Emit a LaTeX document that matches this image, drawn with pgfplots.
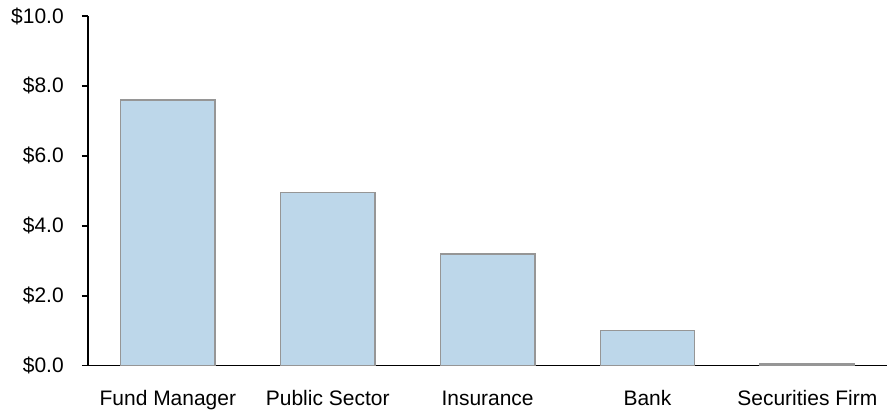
\documentclass[border=0pt]{standalone}
\usepackage{pgfplots}
\pgfplotsset{compat=1.18}
\usepackage{fontspec}
\setmainfont{Liberation Sans}
\definecolor{barfill}{HTML}{BDD7EA}
\definecolor{barline}{HTML}{969696}
\begin{document}
\fontsize{21bp}{25bp}\selectfont
\begin{tikzpicture}
\begin{axis}[
  name=ax,
  scale only axis, width=800bp, height=350bp,
  xmin=-0.5, xmax=4.5, ymin=0, ymax=10,
  axis x line=bottom, axis y line=left,
  axis line style={-, black, line width=1.5bp},
  xtick={0,...,4},
  xticklabels={Fund Manager, Public Sector, Insurance, Bank, Securities Firm},
  x tick style={draw=none},
  ytick={0,2,...,10},
  yticklabels={\$0.0,\$2.0,\$4.0,\$6.0,\$8.0,\$10.0},
  y tick style={black, line width=1.5bp},
  tick align=outside, major tick length=6bp,
  tick label style={font=\fontsize{21bp}{25bp}\selectfont},
  xticklabel style={yshift=-11bp, text height=15.5bp, text depth=4.5bp},
  yticklabel style={xshift=-11bp},
  ybar, bar width=0.59,
  clip=false,
]
\addplot[fill=barfill, draw=barline, line width=1.5bp] coordinates {(0,7.6) (1,4.95) (2,3.2) (3,1.0) (4,0.05)};
\end{axis}
\path[use as bounding box] ([shift={(-88bp,-44bp)}]ax.south west) rectangle ([shift={(0bp,16bp)}]ax.north east);
\end{tikzpicture}
\end{document}
